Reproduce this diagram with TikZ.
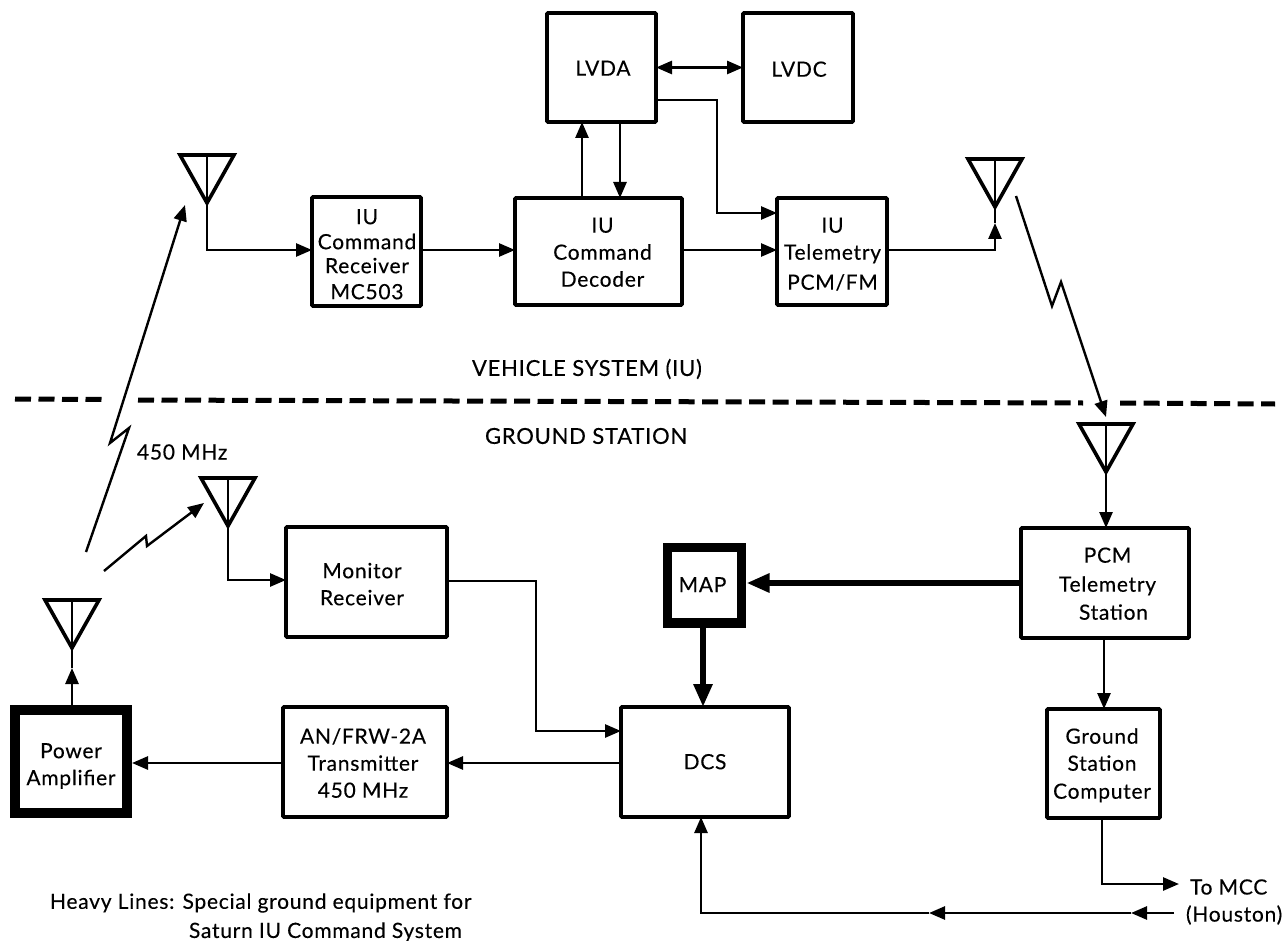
\documentclass[tikz,border=0pt]{standalone}
\usepackage{fontspec}
\setmainfont{Lato}[LetterSpace=3.5,FakeBold=0.25]
\usetikzlibrary{arrows.meta}
\newcommand{\tb}[3]{\raisebox{\dimexpr-#2pt-7pt\relax}[0pt][0pt]{\makebox[0pt][c]{\hspace*{\dimexpr 2\dimexpr#1pt\relax\relax}\begin{tabular}{@{}c@{}}#3\end{tabular}}}}
\tikzset{
  lineonly/.style={line width=2.7pt,line join=miter},
  conn/.style={lineonly,-{Triangle[length=16pt,width=13pt]}},
  heavyconn/.style={line width=6.5pt,-{Triangle[length=23pt,width=18pt]}},
  bolt/.style={line width=2.4pt,line join=miter,-{Triangle[length=16pt,width=13pt]}},
  box/.style={draw,line width=3.6pt,inner sep=0pt,outer sep=0pt,rounded corners=1pt,font=\fontsize{21}{27}\selectfont},
  heavybox/.style={box,line width=9.5pt,rounded corners=0pt},
  lbl/.style={inner sep=0pt,outer sep=0pt,font=\fontsize{21}{27}\selectfont},
  caplbl/.style={lbl,font=\fontsize{22}{27}\selectfont},
  divider/.style={line width=5pt,dash pattern=on 16pt off 7.5pt},
  ant/.style={draw,line width=3.6pt,line join=miter}
}
\newcommand{\antenna}[3]{%
  \coordinate (#1) at (#2,#3+48);
  \draw[ant] (#2-27,#3) -- (#2+27,#3) -- (#1) -- cycle;
  \draw[line width=2.8pt] (#2,#3) -- (#1);
}
\begin{document}
\begin{tikzpicture}[x=1pt,y=-1pt]
\useasboundingbox (0,0) rectangle (1284,941);
% boxes: vehicle
\node[box,minimum width=109pt,minimum height=109pt] (lvda) at (601.5,67.5) {\tb{1.5}{1}{LVDA}};
\node[box,minimum width=110pt,minimum height=109pt] (lvdc) at (798,67.5) {\tb{1}{2}{LVDC}};
\node[box,minimum width=109pt,minimum height=109pt] (rx) at (366.5,251.5) {\tb{0.5}{3}{IU\\[-2pt]Command\\[-3pt]Receiver\\[-1pt]MC503}};
\node[box,minimum width=167pt,minimum height=107pt] (dec) at (598.5,251.5) {\tb{4}{1}{IU\\Command\\Decoder}};
\node[box,minimum width=110pt,minimum height=107pt] (tel) at (832,251.5) {\tb{0.5}{2.5}{IU\\Telemetry\\[3pt]PCM/FM}};
% boxes: ground
\node[box,minimum width=161pt,minimum height=110pt] (mon) at (366.5,582) {\tb{-4.5}{2.5}{Monitor\\Receiver}};
\node[heavybox,minimum width=74pt,minimum height=75.5pt] (map) at (704.5,585) {\tb{-2}{0}{MAP}};
\node[box,minimum width=168pt,minimum height=110pt] (pcm) at (1105,583) {\tb{2.5}{1}{PCM\\[2pt]Telemetry\\[1pt]\hspace*{12pt}Station}};
\node[heavybox,minimum width=112pt,minimum height=103pt] (pa) at (71,761.5) {\tb{0}{3}{Power\\Amplifier}};
\node[box,minimum width=164pt,minimum height=110pt] (an) at (365,762) {\tb{-2}{1.5}{AN/FRW-2A\\Transmitter\\450 MHz}};
\node[box,minimum width=168pt,minimum height=110pt] (dcs) at (705,762) {\tb{0}{0}{DCS}};
\node[box,minimum width=113pt,minimum height=109pt] (gsc) at (1103.5,763.5) {\tb{-1.5}{0.5}{Ground\\Station\\[1pt]Computer}};
% antennas
\antenna{a1}{207}{155}
\antenna{a2}{995}{159}
\antenna{a3}{1106}{424}
\antenna{a4}{228}{478}
\antenna{a5}{72}{600}
% free ends
\coordinate (boltAs) at (86,552);
\coordinate (boltA1) at (129,428);
\coordinate (boltA2) at (110,443);
\coordinate (boltAe) at (185,205);
\coordinate (boltBs) at (104,571);
\coordinate (boltB1) at (146,536);
\coordinate (boltB2) at (147,546);
\coordinate (boltBe) at (204,503);
\coordinate (boltCs) at (1016,196);
\coordinate (boltC1) at (1052,306);
\coordinate (boltC2) at (1061,282);
\coordinate (boltCe) at (1106,417);
\coordinate (mcc) at (1179,884);
\coordinate (hou) at (1174,913);
\coordinate (houA) at (1131,913);
\coordinate (houB) at (929,913);
\coordinate (hcorner) at (701,913);
\coordinate (bendA) at (717,213);
\coordinate (bendB) at (536,731);
\coordinate (a2tip) at (995,223);
\coordinate (a5tip) at (72,668);
% connectors
\draw[conn] (a1) |- ([yshift=1.5pt]rx.west);
\draw[conn] ([yshift=1.5pt]rx.east) -- ([yshift=1.5pt]dec.west);
\draw[conn] ([xshift=67pt]dec.north west) -- ([xshift=35pt]lvda.south west);
\draw[conn] ([xshift=73pt]lvda.south west) -- ([xshift=105pt]dec.north west);
\draw[lineonly,{Triangle[length=16pt,width=13pt]}-{Triangle[length=16pt,width=13pt]}] (lvda.east) -- (lvdc.west);
\draw[conn] ([yshift=-87pt]lvda.north east) -| (bendA) -- ([yshift=-15pt]tel.north west);
\draw[conn] ([yshift=1.5pt]dec.east) -- ([yshift=1.5pt]tel.west);
\draw[conn] ([yshift=1.5pt]tel.east) -| (a2tip);
\draw[lineonly] (a2tip) -- (a2);
\draw[conn] (a3) -- ([xshift=1pt]pcm.north);
\draw[conn] (a4) |- ([yshift=2pt]mon.west);
\draw[conn] ([yshift=1pt]mon.east) -| (bendB) -- ([yshift=31pt]dcs.west);
\draw[conn] ([yshift=-1pt]dcs.west) -- ([yshift=-1pt]an.east);
\draw[conn] ([yshift=-1pt]an.west) -- ([xshift=5pt,yshift=-1.5pt]pa.east);
\draw[conn] ([xshift=1pt,yshift=5pt]pa.north) -- (a5tip);
\draw[lineonly] (a5tip) -- (a5);
\draw[heavyconn] (pcm.west) -- ([xshift=5pt,yshift=2pt]map.east);
\draw[heavyconn] ([xshift=-1.5pt,yshift=-5pt]map.south) -- ([xshift=-2pt]dcs.north);
\draw[conn] ([xshift=-1pt]pcm.south) -- ([xshift=0.5pt]gsc.north);
\draw[conn] ([xshift=-1.5pt]gsc.south) |- (mcc);
\draw[conn] (hou) -- (houA);
\draw[conn] (houA) -- (houB);
\draw[conn] (houB) -- (hcorner) -- ([xshift=-4pt]dcs.south);
\draw[bolt] (boltAs) -- (boltA1) -- (boltA2) -- (boltAe);
\draw[bolt] (boltBs) -- (boltB1) -- (boltB2) -- (boltBe);
\draw[bolt] (boltCs) -- (boltC1) -- (boltC2) -- (boltCe);
% divider
\coordinate (d0) at (15,399);
\coordinate (d1) at (103,399.5);
\coordinate (d2) at (138,400);
\coordinate (d3) at (1083,403);
\coordinate (d4) at (1120,403);
\coordinate (d5) at (1275,404);
\draw[divider] (d0) -- (d1);
\draw[divider] (d2) -- (d3);
\draw[divider] (d4) -- (d5);
% labels
\node[caplbl,anchor=west] (vs) at (472,369) {VEHICLE SYSTEM (IU)};
\node[caplbl,anchor=west] (gs) at (485,436) {GROUND STATION};
\node[lbl,anchor=west] (mhz) at (137,452) {450 MHz};
\node[lbl,anchor=west] (h1) at (50,903) {Heavy Lines: Special ground equipment for};
\node[lbl,anchor=west] (h2) at (189,932) {Saturn IU Command System};
\node[lbl,anchor=west] (t1) at (1190,887) {To MCC};
\node[lbl,anchor=west] (t2) at (1186,915) {(Houston)};
\end{tikzpicture}
\end{document}
